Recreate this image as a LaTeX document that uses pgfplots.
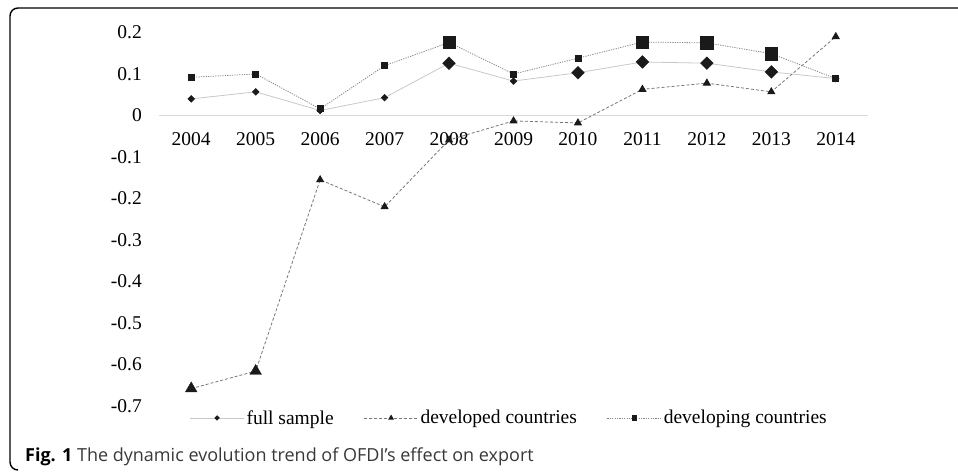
\documentclass[border=0pt]{standalone}
\usepackage{pgfplots}
\pgfplotsset{compat=1.18}
\usepackage{fontspec}
\setmainfont{Liberation Serif}
\newfontfamily\capfont{Open Sans}
\definecolor{fullc}{HTML}{C8C8C8}
\definecolor{devdc}{HTML}{777777}
\definecolor{devgc}{HTML}{858585}
\definecolor{mk}{HTML}{1A1A1A}
\begin{document}
\begin{tikzpicture}[x=1pt,y=1pt]
\useasboundingbox (0,0) rectangle (958,473);
\draw[line width=1.4pt, rounded corners=8pt] (962,465) -- (10,465) -- (10,3) -- (17,3);
\begin{axis}[
    at={(159pt,67pt)}, anchor=south west,
    scale only axis, width=709pt, height=373.5pt,
    xmin=2003.5, xmax=2014.5, ymin=-0.7, ymax=0.2,
    axis x line=middle, axis y line=left,
    axis line style={-},
    x axis line style={draw=black!15, line width=1.8pt},
    y axis line style={draw=none},
    major tick length=0pt,
    hide obscured x ticks=false, hide obscured y ticks=false,
    xtick={2004,2005,2006,2007,2008,2009,2010,2011,2012,2013,2014},
    xticklabels={2004,2005,2006,2007,2008,2009,2010,2011,2012,2013,2014},
    ytick={-0.7,-0.6,-0.5,-0.4,-0.3,-0.2,-0.1,0,0.1,0.2},
    yticklabels={-0.7,-0.6,-0.5,-0.4,-0.3,-0.2,-0.1,0,0.1,0.2},
    ticklabel style={font=\fontsize{19.5}{22}\selectfont, inner sep=0pt},
    xticklabel style={anchor=north, yshift=-16.5pt},
    yticklabel style={anchor=east, xshift=-17pt},
    clip=false,
    legend columns=-1,
    legend style={draw=none, fill=none, at={(0.494,-0.032)}, anchor=center,
      font=\fontsize{19.5}{22}\selectfont,
      /tikz/every even column/.append style={column sep=28pt}},
    legend image code/.code={\draw[mark repeat=2,mark phase=2,#1] plot coordinates {(0pt,0pt) (27pt,0pt) (54pt,0pt)};},
  ]
\addlegendimage{color=fullc, line width=0.8pt, mark=square*, mark size=1.5pt, mark options={rotate=45, draw=mk, fill=mk, solid}}
\addlegendimage{color=devdc, line width=0.8pt, dash pattern=on 3pt off 2pt, mark=triangle*, mark size=2.6pt, mark options={draw=mk, fill=mk, solid}}
\addlegendimage{color=devgc, line width=0.8pt, dash pattern=on 1.2pt off 1.2pt, mark=square*, mark size=2.2pt, mark options={draw=mk, fill=mk, solid}}
\legend{full sample, developed countries, developing countries}

% full sample
\addplot[forget plot, color=fullc, line width=0.8pt, mark=square*, mark size=2.25pt,
  mark options={rotate=45, draw=mk, fill=mk, solid}] coordinates {
  (2004,0.040) (2005,0.057) (2006,0.012) (2007,0.043) (2008,0.126) (2009,0.083)
  (2010,0.103) (2011,0.129) (2012,0.126) (2013,0.105) (2014,0.089)};
\addplot[forget plot, only marks, mark=square*, mark size=4.5pt,
  mark options={rotate=45, draw=mk, fill=mk}] coordinates {
  (2008,0.126) (2010,0.103) (2011,0.129) (2012,0.126) (2013,0.105)};

% developed countries
\addplot[forget plot, color=devdc, line width=0.8pt, dash pattern=on 3pt off 2pt, mark=triangle*, mark size=4pt,
  mark options={draw=mk, fill=mk, solid}] coordinates {
  (2004,-0.658) (2005,-0.616) (2006,-0.155) (2007,-0.220) (2008,-0.059) (2009,-0.013)
  (2010,-0.018) (2011,0.063) (2012,0.078) (2013,0.057) (2014,0.190)};
\addplot[forget plot, only marks, mark=triangle*, mark size=6.7pt,
  mark options={draw=mk, fill=mk}] coordinates {
  (2004,-0.658) (2005,-0.616)};

% developing countries
\addplot[forget plot, color=devgc, line width=0.8pt, dash pattern=on 1.2pt off 1.2pt, mark=square*, mark size=3pt,
  mark options={draw=mk, fill=mk, solid}] coordinates {
  (2004,0.092) (2005,0.100) (2006,0.016) (2007,0.120) (2008,0.176) (2009,0.100)
  (2010,0.138) (2011,0.177) (2012,0.175) (2013,0.149) (2014,0.089)};
\addplot[forget plot, only marks, mark=square*, mark size=6.2pt,
  mark options={draw=mk, fill=mk}] coordinates {
  (2008,0.176) (2011,0.177) (2012,0.175) (2013,0.149)};
\end{axis}
\node[anchor=base west, inner sep=0pt] at (25,11)
  {\capfont\fontsize{18}{20}\selectfont\textbf{Fig. 1} \textcolor{black!78}{The dynamic evolution trend of OFDI’s effect on export}};
\end{tikzpicture}
\end{document}
